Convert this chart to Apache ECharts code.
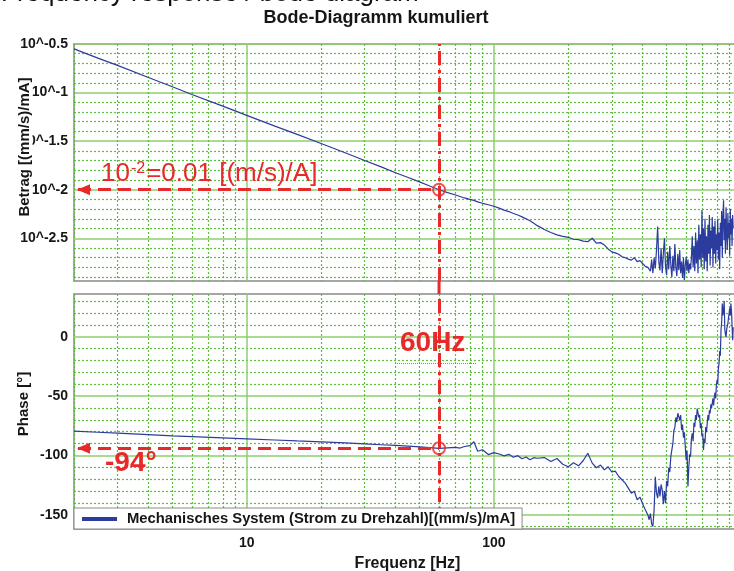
<!DOCTYPE html>
<html>
<head>
<meta charset="utf-8">
<script src="https://cdn.jsdelivr.net/npm/echarts@6/dist/echarts.min.js"></script>
<style>
  html, body { margin: 0; padding: 0; background: #fff; }
  #chart { width: 734px; height: 571px; }
</style>
</head>
<body>
<div id="chart"></div>
<script>
// Measured frequency points [Hz]
const freqHz = [
  2, 2.5, 3, 4, 5, 6, 8, 10, 13, 16, 20, 25, 30, 35, 40, 45, 50, 55, 60,
  65, 70, 73, 76, 80, 83, 86, 90, 95, 100, 105, 110, 115, 120, 125, 130, 135, 140, 145, 150,
  160, 170, 180, 190, 200, 210, 220, 230, 240, 250, 260, 270, 280, 290, 300, 310, 320, 330, 340, 350,
  360, 370, 380, 390, 400, 410, 420,
  425, 430, 435, 440, 445, 450, 455, 460, 465, 470,
  475, 480, 485, 490, 495, 500, 505, 510, 515, 520,
  525, 530, 535, 540, 545, 550, 555, 560, 565, 570,
  575, 580, 585, 590, 595, 600, 605, 610, 615, 620,
  625, 630, 635, 640, 645, 650, 655, 660, 665, 670,
  675, 680, 685, 690, 695, 700, 705, 710, 715, 720,
  725, 730, 735, 740, 745, 750, 755, 760, 765, 770,
  775, 780, 785, 790, 795, 800, 805, 810, 815, 820,
  825, 830, 835, 840, 845, 850, 855, 860, 865, 870,
  875, 880, 885, 890, 895, 900, 905, 910, 915, 920,
  925, 930
];

// Betrag as decimal exponent: value v means 10^v (mm/s)/mA
const betragExp = [
  -0.55, -0.645, -0.72, -0.845, -0.94, -1.02, -1.14, -1.235, -1.345, -1.43,
  -1.525, -1.62, -1.70, -1.765, -1.825, -1.875, -1.92, -1.962, -2.0,
  -2.03, -2.055, -2.07, -2.085, -2.10, -2.11, -2.125, -2.14, -2.155, -2.17,
  -2.19, -2.21, -2.225, -2.245, -2.26, -2.28, -2.30, -2.32, -2.345, -2.37,
  -2.41, -2.44, -2.465, -2.48, -2.49, -2.51, -2.515, -2.53, -2.535, -2.50,
  -2.55, -2.545, -2.57, -2.61, -2.64, -2.65, -2.665, -2.69, -2.70, -2.715,
  -2.725, -2.70, -2.74, -2.73, -2.76, -2.79, -2.80,
  -2.78, -2.84, -2.72, -2.86, -2.70, -2.81, -2.62, -2.38, -2.74, -2.83,
  -2.60, -2.86, -2.66, -2.50, -2.79, -2.88, -2.64, -2.82, -2.58, -2.77,
  -2.90, -2.68, -2.84, -2.56, -2.80, -2.89, -2.66, -2.83, -2.62, -2.86,
  -2.74, -2.91, -2.70, -2.93, -2.78, -2.69, -2.84, -2.72, -2.86, -2.76,
  -2.82, -2.70, -2.48, -2.80, -2.58, -2.84, -2.44, -2.76, -2.52, -2.86,
  -2.36, -2.72, -2.46, -2.80, -2.21, -2.70, -2.40, -2.82, -2.30, -2.74,
  -2.48, -2.84, -2.36, -2.66, -2.26, -2.78, -2.42, -2.60, -2.28, -2.80,
  -2.38, -2.66, -2.32, -2.76, -2.46, -2.62, -2.30, -2.72, -2.44, -2.82,
  -2.34, -2.58, -2.22, -2.70, -2.28, -2.11, -2.52, -2.30, -2.66, -2.18,
  -2.44, -2.62, -2.24, -2.50, -2.34, -2.68, -2.20, -2.46, -2.30, -2.58,
  -2.26, -2.40
];

// Phase [deg]
const phaseDeg = [
  -79.5, -80.5, -81.3, -82.5, -83.5, -84.2, -85.2, -86.0, -87.0, -87.8,
  -88.6, -89.5, -90.3, -91.0, -91.6, -92.2, -92.8, -93.4, -94.0,
  -93.6, -93.2, -93.8, -92.5, -91.8, -88.5, -96.5, -95.2, -99.3, -97.6,
  -98.8, -100.4, -99.1, -101.5, -100.2, -102.8, -101.3, -103.6, -101.9, -102.4,
  -101.8, -105.1, -102.6, -107.4, -109.5, -106.2, -108.8, -104.3, -98.2, -106.5,
  -110.4, -108.1, -112.2, -109.6, -114.0, -113.2, -117.8, -120.5, -123.4, -127.6,
  -131.8, -130.2, -137.4, -135.1, -141.0, -145.8, -150.2,
  -154.2, -149.0, -157.5, -159.8, -146.0, -118.0, -131.5, -136.0, -126.0, -134.6,
  -124.5, -129.0, -141.0, -130.0, -140.2, -121.5, -126.0, -110.4, -114.0, -101.0,
  -95.4, -90.0, -79.0, -76.4, -68.0, -72.0, -64.5, -63.2, -70.0, -66.0,
  -78.6, -74.0, -85.0, -80.6, -92.6, -104.0, -96.0, -126.2, -110.0, -99.0,
  -101.0, -86.0, -81.3, -88.0, -72.5, -76.0, -66.0, -70.2, -60.5, -59.0,
  -68.0, -66.0, -77.0, -73.0, -84.0, -81.3, -95.4, -86.0, -89.7, -76.0,
  -80.5, -73.0, -66.0, -70.5, -62.0, -64.5, -57.0, -60.0, -56.1, -52.0,
  -58.0, -50.6, -47.0, -52.0, -41.0, -36.6, -40.0, -27.0, -22.5, -12.0,
  -16.0, 5.5, 12.0, 27.9, 18.0, 22.3, 30.0, 6.0, 2.0, -0.2,
  6.0, 9.0, 11.1, 16.0, 19.5, 24.0, 18.0, 27.9, 22.0, 10.0,
  -2.9, 8.0
];

// Axis ranges and labelled ticks
const freqRange = [2, 1000];
const freqLabels = [10, 100];
const betragRange = [-2.94, -0.5];
const betragTicks = [-2.5, -2, -1.5, -1, -0.5];
const phaseRange = [-162, 36];
const phaseTicks = [-150, -100, -50, 0];

// Operating point highlighted in both panels
const markerFreq = 60;
const markerBetragExp = -2;   // 10^-2 = 0.01
const markerPhase = -94;

const seriesName = 'Mechanisches System (Strom zu Drehzahl)[(mm/s)/mA]';

// Minor grid positions: 2..9 per decade, 0.1 steps in exponent, 10 deg steps
const freqMinor = [];
[1, 10, 100].forEach(d => { for (let k = 2; k <= 9; k++) freqMinor.push(k * d); });
const betragMinor = [];
for (let i = Math.ceil(betragRange[0] * 10); i <= Math.floor(betragRange[1] * 10); i++) {
  if (i % 5 !== 0) betragMinor.push(i / 10);
}
const phaseMinor = [];
for (let i = Math.ceil(phaseRange[0] / 10); i <= Math.floor(phaseRange[1] / 10); i++) {
  if (i % 5 !== 0) phaseMinor.push(i * 10);
}

const FONT = '"Liberation Sans", Arial, Helvetica, sans-serif';
const gridSolid = '#8cd06c';
const gridDot = '#5dbd3d';
const curveColor = '#2b3b9e';
const red = '#e8292a';
const ink = '#161616';

const tickLabelStyle = { fontFamily: FONT, fontWeight: 'bold', fontSize: 14, color: ink };

function xAxisPair(gridIndex, withLabels) {
  const major = {
    gridIndex, type: 'log', logBase: 10, min: freqRange[0], max: freqRange[1],
    axisLine: { show: false },
    axisTick: { show: false, customValues: freqLabels },
    axisLabel: Object.assign({ show: withLabels, customValues: freqLabels, margin: 7 }, tickLabelStyle),
    splitLine: { show: true, lineStyle: { color: gridSolid, width: 1.5 } }
  };
  if (withLabels) {
    Object.assign(major, {
      name: 'Frequenz [Hz]', nameLocation: 'middle', nameGap: 27,
      nameTextStyle: { fontFamily: FONT, fontWeight: 'bold', fontSize: 16, color: ink }
    });
  }
  const minor = {
    gridIndex, type: 'log', logBase: 10, min: freqRange[0], max: freqRange[1],
    axisLine: { show: false },
    axisTick: { show: false, customValues: freqMinor },
    axisLabel: { show: false },
    splitLine: { show: true, lineStyle: { color: gridDot, width: 1.2, type: [2, 2] } }
  };
  return [major, minor];
}

function yAxisPair(gridIndex, range, ticks, minorTicks, formatter) {
  const major = {
    gridIndex, type: 'value', min: range[0], max: range[1], position: 'left',
    axisLine: { show: false },
    axisTick: { show: false, customValues: ticks },
    axisLabel: Object.assign({ customValues: ticks, margin: 6, formatter }, tickLabelStyle),
    splitLine: { show: true, lineStyle: { color: gridSolid, width: 1.5 } }
  };
  const minor = {
    gridIndex, type: 'value', min: range[0], max: range[1], position: 'left',
    axisLine: { show: false },
    axisTick: { show: false, customValues: minorTicks },
    axisLabel: { show: false },
    splitLine: { show: true, lineStyle: { color: gridDot, width: 1.2, type: [2, 2] } }
  };
  return [major, minor];
}

const betragData = freqHz.map((f, i) => [f, betragExp[i]]);
const phaseData = freqHz.map((f, i) => [f, phaseDeg[i]]);

const markerCircle = {
  type: 'scatter', symbol: 'circle', symbolSize: 12, silent: true, z: 6,
  itemStyle: { color: 'rgba(0,0,0,0)', borderColor: red, borderWidth: 2 }
};

const dashDot = [14, 5, 3, 5];

function guideLines(levelValue) {
  return {
    silent: true, symbol: ['none', 'none'], label: { show: false }, animation: false,
    lineStyle: { color: red, width: 3 },
    data: [
      [
        { coord: [freqRange[0], levelValue], lineStyle: { color: red, width: 3, type: [13, 7], dashOffset: 16 } },
        { coord: [markerFreq, levelValue] }
      ],
      { xAxis: markerFreq, lineStyle: { color: red, width: 3, type: dashDot } }
    ]
  };
}

const gridCommon = {
  left: 74, width: 667, show: true, borderColor: '#a6a6a6', borderWidth: 2,
  backgroundColor: '#ffffff', outerBoundsMode: 'none', containLabel: false
};

const option = {
  animation: false,
  backgroundColor: '#ffffff',
  grid: [
    Object.assign({ top: 44, height: 237 }, gridCommon),
    Object.assign({ top: 294, height: 235 }, gridCommon)
  ],
  xAxis: [...xAxisPair(0, false), ...xAxisPair(1, true)],
  yAxis: [
    ...yAxisPair(0, betragRange, betragTicks, betragMinor, v => '10^' + v),
    ...yAxisPair(1, phaseRange, phaseTicks, phaseMinor, v => String(v))
  ],
  legend: {
    data: [seriesName], left: 74, top: 508, icon: 'rect', itemWidth: 35, itemHeight: 4,
    padding: [3, 7, 2, 8], backgroundColor: '#ffffff', borderColor: '#8a8a8a', borderWidth: 1,
    borderRadius: 0, selectedMode: false, z: 10,
    textStyle: { fontFamily: FONT, fontWeight: 'bold', fontSize: 14.8, color: ink, padding: [0, 0, 0, 5], lineHeight: 16 }
  },
  series: [
    {
      name: seriesName, type: 'line', xAxisIndex: 0, yAxisIndex: 0, data: betragData,
      symbol: 'none', showSymbol: false, z: 3,
      lineStyle: { color: curveColor, width: 1.2 }, itemStyle: { color: curveColor },
      markLine: guideLines(markerBetragExp)
    },
    {
      name: seriesName, type: 'line', xAxisIndex: 2, yAxisIndex: 2, data: phaseData,
      symbol: 'none', showSymbol: false, z: 3,
      lineStyle: { color: curveColor, width: 1.2 }, itemStyle: { color: curveColor },
      markLine: guideLines(markerPhase)
    },
    Object.assign({ xAxisIndex: 0, yAxisIndex: 0, data: [[markerFreq, markerBetragExp]] }, markerCircle),
    Object.assign({ xAxisIndex: 2, yAxisIndex: 2, data: [[markerFreq, markerPhase]] }, markerCircle)
  ]
};

const chart = echarts.init(document.getElementById('chart'), null, { renderer: 'canvas' });
chart.setOption(option);

// Arrow heads at the left end of the red guide lines
const pTop = chart.convertToPixel({ xAxisIndex: 0, yAxisIndex: 0 }, [freqRange[0], markerBetragExp]);
const pBot = chart.convertToPixel({ xAxisIndex: 2, yAxisIndex: 2 }, [freqRange[0], markerPhase]);
// The 60 Hz guide bridges the gap between both panels
const gapTop = chart.convertToPixel({ xAxisIndex: 0, yAxisIndex: 0 }, [markerFreq, betragRange[0]]);
const gapBot = chart.convertToPixel({ xAxisIndex: 2, yAxisIndex: 2 }, [markerFreq, phaseRange[1]]);

function arrowHead(p) {
  return {
    type: 'polygon', z: 20, silent: true,
    shape: { points: [[p[0] + 3, p[1]], [p[0] + 16, p[1] - 5.5], [p[0] + 16, p[1] + 5.5]] },
    style: { fill: red }
  };
}
function label(text, x, y, font, fill, extra) {
  return Object.assign({
    type: 'text', x, y, z: 20, silent: true,
    style: { text, font, fill, align: 'left', verticalAlign: 'middle', textAlign: 'left', textVerticalAlign: 'middle' }
  }, extra || {});
}

chart.setOption({
  graphic: [
    label('Frequency response / bode diagram', 1, -6, '26px ' + FONT, '#111'),
    {
      type: 'text', x: 376, y: 18, z: 20, silent: true,
      style: { text: 'Bode-Diagramm kumuliert', font: 'bold 18px ' + FONT, fill: ink,
               align: 'center', verticalAlign: 'middle', textAlign: 'center', textVerticalAlign: 'middle' }
    },
    {
      type: 'text', x: 25, y: 147, rotation: Math.PI / 2, z: 20, silent: true,
      style: { text: 'Betrag [(mm/s)/mA]', font: 'bold 15px ' + FONT, fill: ink, backgroundColor: '#ffffff',
               align: 'center', verticalAlign: 'middle', textAlign: 'center', textVerticalAlign: 'middle' }
    },
    {
      type: 'text', x: 24, y: 404, rotation: Math.PI / 2, z: 20, silent: true,
      style: { text: 'Phase [°]', font: 'bold 15px ' + FONT, fill: ink,
               align: 'center', verticalAlign: 'middle', textAlign: 'center', textVerticalAlign: 'middle' }
    },
    {
      type: 'line', z: 20, silent: true,
      shape: { x1: gapTop[0], y1: gapTop[1], x2: gapBot[0], y2: gapBot[1] },
      style: { stroke: red, lineWidth: 3, lineDash: dashDot }
    },
    arrowHead(pTop),
    arrowHead(pBot),
    {
      type: 'text', x: 101, y: 174, z: 20, silent: true,
      style: {
        text: '{n|10}{s|-2}{n|=0.01 [(m/s)/A]}', fill: red, align: 'left', verticalAlign: 'middle',
        textAlign: 'left', textVerticalAlign: 'middle',
        rich: {
          n: { fontFamily: FONT, fontSize: 26, fill: red, color: red },
          s: { fontFamily: FONT, fontSize: 16, fill: red, color: red, verticalAlign: 'top', padding: [0, 1, 0, 1] }
        }
      }
    },
    label('60Hz', 400, 343, 'bold 28px ' + FONT, red),
    label('-94°', 105, 463.5, 'bold 28px ' + FONT, red),
    {
      type: 'line', z: 19, silent: true,
      shape: { x1: 397, y1: 363.5, x2: 477, y2: 363.5 },
      style: { stroke: '#8a8a8a', lineWidth: 1, lineDash: [1, 1] }
    }
  ]
});
</script>
</body>
</html>
